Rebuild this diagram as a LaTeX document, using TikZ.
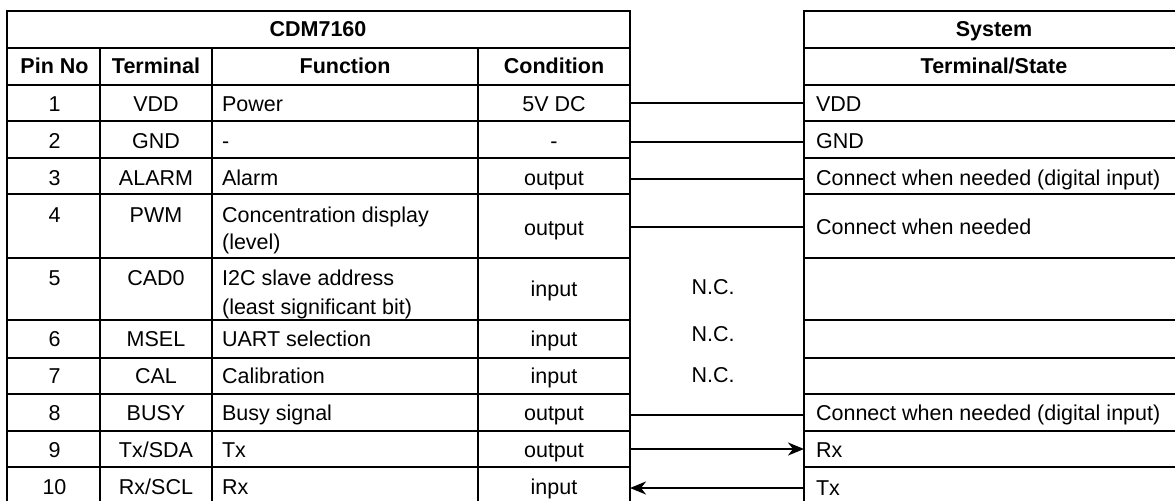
\documentclass[tikz,border=0pt]{standalone}
\usepackage{fontspec}
\setmainfont{Liberation Sans}
\usetikzlibrary{arrows.meta}

\begin{document}
\begin{tikzpicture}[x=0.5pt,y=-0.5pt,line width=1.1pt,
  cell/.style={inner sep=0pt,text height=7.7pt,text depth=0pt,font=\fontsize{10.75}{13}\selectfont},
  head/.style={cell,font=\fontsize{10.75}{13}\selectfont\bfseries},
  lcell/.style={cell,anchor=west},
  >={Stealth[length=8pt,width=6.5pt,inset=2.5pt]}]
  \useasboundingbox (0,0) rectangle (1175,500);

  \foreach \y in {11,48,85,121,158,194,258,320,358,394,431,467}{
    \draw (7,\y) -- (630,\y);
    \draw (804,\y) -- (1184,\y);
  }
  \draw (7,504) -- (7,11) -- (630,11) -- (630,504);
  \draw (804,504) -- (804,11) -- (1184,11);
  \foreach \x in {100,212,478} \draw (\x,48) -- (\x,504);

  \node[head] (title) at (318,29) {CDM7160};
  \node[head] (sys) at (994,29) {System};
  \node[head] (hpin) at (54.5,66) {Pin No};
  \node[head] (hterm) at (156,66) {Terminal};
  \node[head] (hfun) at (345,66) {Function};
  \node[head] (hcond) at (554,66) {Condition};
  \node[head] (hstate) at (994,66) {Terminal/State};

  \foreach \i/\y/\t/\f/\c in {1/104/VDD/Power/5V DC, 2/141/GND/-/-, 3/178/ALARM/Alarm/output,
      6/339/MSEL/UART selection/input, 7/376/CAL/Calibration/input, 8/413/BUSY/Busy signal/output,
      9/450/{Tx/SDA}/Tx/output, 10/487/{Rx/SCL}/Rx/input}{
    \node[cell] (pin\i) at (54.5,\y) {\i};
    \node[cell] (term\i) at (156,\y) {\t};
    \node[lcell] (fun\i) at (221,\y) {\f};
    \node[cell] (cond\i) at (554,\y) {\c};
  }
  \node[cell] (pin4) at (54.5,215) {4};
  \node[cell] (term4) at (156,215) {PWM};
  \node[lcell] (fun4) at (221,215) {Concentration display};
  \node[lcell] (fun4b) at (221,242) {(level)};
  \node[cell] (cond4) at (554,228) {output};
  \node[cell] (pin5) at (54.5,278) {5};
  \node[cell] (term5) at (156,278) {CAD0};
  \node[lcell] (fun5) at (221,278) {I2C slave address};
  \node[lcell] (fun5b) at (221,307) {(least significant bit)};
  \node[cell] (cond5) at (554,289) {input};

  \node[cell] (nc5) at (713,287) {N.C.};
  \node[cell] (nc6) at (713,334) {N.C.};
  \node[cell] (nc7) at (713,374.5) {N.C.};

  \node[lcell] (sys1) at (815,104) {VDD};
  \node[lcell] (sys2) at (815,141) {GND};
  \node[lcell] (sys3) at (815,178) {Connect when needed (digital input)};
  \node[lcell] (sys4) at (815,227) {Connect when needed};
  \node[lcell] (sys8) at (815,413) {Connect when needed (digital input)};
  \node[lcell] (sys9) at (815,450) {Rx};
  \node[lcell] (sys10) at (815,488) {Tx};

  \foreach \i/\y in {1/103,2/142,3/179,4/227,8/415,9/449,10/488}{
    \coordinate (a\i) at (630,\y);
    \coordinate (b\i) at (804,\y);
  }
  \draw (a1) -- (b1);
  \draw (a2) -- (b2);
  \draw (a3) -- (b3);
  \draw (a4) -- (b4);
  \draw (a8) -- (b8);
  \draw[->] (a9) -- (b9);
  \draw[<-] (a10) -- (b10);
\end{tikzpicture}
\end{document}
